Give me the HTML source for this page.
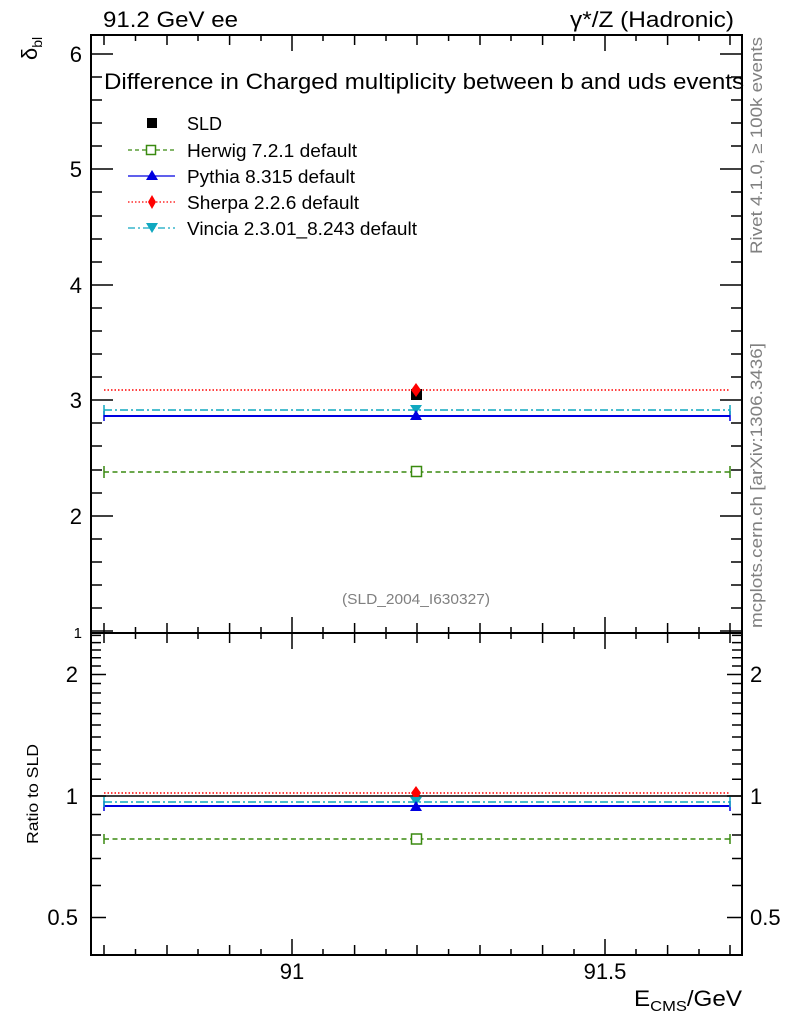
<!DOCTYPE html>
<html><head><meta charset="utf-8"><style>
html,body{margin:0;padding:0;background:#fff;}
svg{display:block;font-family:"Liberation Sans",sans-serif;}
</style></head><body>
<svg width="786" height="1024" viewBox="0 0 786 1024" xmlns="http://www.w3.org/2000/svg">
<rect width="786" height="1024" fill="#fff"/>
<rect x="91" y="35" width="651" height="598" fill="none" stroke="#000" stroke-width="2"/>
<rect x="91" y="633" width="651" height="322" fill="none" stroke="#000" stroke-width="2"/>

<g stroke="#000" stroke-width="1.5">
<path d="M91 631h22M91 516h22M91 400h22M91 285h22M91 169h22M91 54h22M742 631h-22M742 516h-22M742 400h-22M742 285h-22M742 169h-22M742 54h-22"/>
<path d="M91 608h11M91 585h11M91 562h11M91 539h11M91 493h11M91 470h11M91 446h11M91 423h11M91 377h11M91 354h11M91 331h11M91 308h11M91 262h11M91 239h11M91 216h11M91 192h11M91 146h11M91 123h11M91 100h11M91 77h11
M742 608h-11M742 585h-11M742 562h-11M742 539h-11M742 493h-11M742 470h-11M742 446h-11M742 423h-11M742 377h-11M742 354h-11M742 331h-11M742 308h-11M742 262h-11M742 239h-11M742 216h-11M742 192h-11M742 146h-11M742 123h-11M742 100h-11M742 77h-11"/>
<path d="M292 35v16M605 35v16M292 633v-16M605 633v-16M292 633v16M605 633v16M292 955v-16M605 955v-16"/>
<path d="M104 35v10M167 35v10M229.6 35v10M354.6 35v10M417 35v10M480 35v10M542.6 35v10M667.6 35v10M730 35v10
M104 633v-10M167 633v-10M229.6 633v-10M354.6 633v-10M417 633v-10M480 633v-10M542.6 633v-10M667.6 633v-10M730 633v-10
M104 633v10M167 633v10M229.6 633v10M354.6 633v10M417 633v10M480 633v10M542.6 633v10M667.6 633v10M730 633v10
M104 955v-10M167 955v-10M229.6 955v-10M354.6 955v-10M417 955v-10M480 955v-10M542.6 955v-10M667.6 955v-10M730 955v-10"/>
<path d="M135.5 35v6M198 35v6M261 35v6M323 35v6M386 35v6M448.6 35v6M511 35v6M574 35v6M636 35v6M699 35v6
M135.5 633v-6M198 633v-6M261 633v-6M323 633v-6M386 633v-6M448.6 633v-6M511 633v-6M574 633v-6M636 633v-6M699 633v-6
M135.5 633v6M198 633v6M261 633v6M323 633v6M386 633v6M448.6 633v6M511 633v6M574 633v6M636 633v6M699 633v6
M135.5 955v-6M198 955v-6M261 955v-6M323 955v-6M386 955v-6M448.6 955v-6M511 955v-6M574 955v-6M636 955v-6M699 955v-6"/>
<path d="M91 917.5h15M91 796h15M91 674.5h15M742 917.5h-15M742 796h-15M742 674.5h-15"/>
<path d="M91 885.5h10M91 858.5h10M91 835h10M91 814.5h10M91 779.3h10M91 764h10M91 750h10M91 737h10M91 725h10M91 713.6h10M91 703h10M91 693h10M91 683.5h10M91 666h10M91 657.8h10M91 650h10M91 642.6h10M91 635.4h10
M742 885.5h-10M742 858.5h-10M742 835h-10M742 814.5h-10M742 779.3h-10M742 764h-10M742 750h-10M742 737h-10M742 725h-10M742 713.6h-10M742 703h-10M742 693h-10M742 683.5h-10M742 666h-10M742 657.8h-10M742 650h-10M742 642.6h-10M742 635.4h-10"/>
</g>

<g font-size="22" fill="#000">
<text x="103" y="27" textLength="135" lengthAdjust="spacingAndGlyphs">91.2 GeV ee</text>
<text x="570" y="27" textLength="164" lengthAdjust="spacingAndGlyphs">γ*/Z (Hadronic)</text>
<text x="82" y="62" text-anchor="end">6</text>
<text x="82" y="177" text-anchor="end">5</text>
<text x="82" y="293" text-anchor="end">4</text>
<text x="82" y="408" text-anchor="end">3</text>
<text x="82" y="524" text-anchor="end">2</text>
<text x="82" y="638" text-anchor="end" font-size="15">1</text>
<text x="78" y="682" text-anchor="end">2</text>
<text x="78" y="804" text-anchor="end">1</text>
<text x="78" y="925" text-anchor="end">0.5</text>
<text x="750" y="682">2</text>
<text x="750" y="804">1</text>
<text x="750" y="925">0.5</text>
<text x="292" y="979" text-anchor="middle">91</text>
<text x="605" y="979" text-anchor="middle">91.5</text>
<text x="634" y="1006" textLength="108" lengthAdjust="spacingAndGlyphs">E<tspan font-size="15" dy="5">CMS</tspan><tspan dy="-5">/GeV</tspan></text>
<text x="104" y="89" textLength="640" lengthAdjust="spacingAndGlyphs">Difference in Charged multiplicity between b and uds events</text>
<text transform="translate(37,60) rotate(-90)" font-size="22">δ<tspan font-size="14" dy="5">bl</tspan></text>
</g>
<text transform="translate(38,844) rotate(-90)" font-size="16" textLength="100" lengthAdjust="spacingAndGlyphs">Ratio to SLD</text>
<g fill="#808080" font-size="17">
<text transform="translate(762,254) rotate(-90)" textLength="217" lengthAdjust="spacingAndGlyphs">Rivet 4.1.0, ≥ 100k events</text>
<text transform="translate(762,628) rotate(-90)" textLength="285" lengthAdjust="spacingAndGlyphs">mcplots.cern.ch [arXiv:1306.3436]</text>
<text x="342" y="604" font-size="15" textLength="148" lengthAdjust="spacingAndGlyphs">(SLD_2004_I630327)</text>
</g>

<g font-size="18" fill="#000">
<rect x="147" y="118" width="10" height="10"/>
<text x="187" y="130">SLD</text>
<line x1="128" y1="150" x2="175" y2="150" stroke="#3a8a10" stroke-width="1.3" stroke-dasharray="4,3"/>
<rect x="146.5" y="145.5" width="9" height="9" fill="#fff" stroke="#3a8a10" stroke-width="1.5"/>
<text x="187" y="157" textLength="170" lengthAdjust="spacingAndGlyphs">Herwig 7.2.1 default</text>
<line x1="128" y1="176" x2="175" y2="176" stroke="#0000e0" stroke-width="1.3"/>
<polygon points="152,170 158,180 146,180" fill="#0000e0"/>
<text x="187" y="183" textLength="168" lengthAdjust="spacingAndGlyphs">Pythia 8.315 default</text>
<line x1="128" y1="202" x2="175" y2="202" stroke="#f00" stroke-width="1.3" stroke-dasharray="1.5,2"/>
<polygon points="152,195 156,202 152,209 148,202" fill="#f00"/>
<text x="187" y="209" textLength="172" lengthAdjust="spacingAndGlyphs">Sherpa 2.2.6 default</text>
<line x1="128" y1="228" x2="175" y2="228" stroke="#10a8c0" stroke-width="1.3" stroke-dasharray="7,3,2,3"/>
<polygon points="146,223 158,223 152,233" fill="#10a8c0"/>
<text x="187" y="235" textLength="230" lengthAdjust="spacingAndGlyphs">Vincia 2.3.01_8.243 default</text>
</g>

<g stroke-width="1.5" fill="none">
<line x1="104" y1="472" x2="730" y2="472" stroke="#3a8a10" stroke-dasharray="5,3.5"/>
<line x1="104" y1="416" x2="730" y2="416" stroke="#0000e0" stroke-width="2"/>
<line x1="104" y1="390" x2="730" y2="390" stroke="#f00" stroke-dasharray="1.5,2"/>
<line x1="104" y1="410" x2="730" y2="410" stroke="#10a8c0" stroke-dasharray="8,3,2,3"/>
<path d="M104 466v12M730 466v12" stroke="#3a8a10"/>
<path d="M104 411v10M730 411v10" stroke="#0000e0"/>
<path d="M104 405v10M730 405v10" stroke="#10a8c0"/>
</g>
<rect x="411" y="389" width="11" height="11" fill="#000"/>
<polygon points="416,383 421,390 416,397 411,390" fill="#f00"/>
<polygon points="410,405 422,405 416,414" fill="#10a8c0"/>
<polygon points="416,410 422,420 410,420" fill="#0000e0"/>
<rect x="411.5" y="466.5" width="10" height="10" fill="#fff" stroke="#3a8a10" stroke-width="1.5"/>

<line x1="91" y1="796" x2="742" y2="796" stroke="#000" stroke-width="1.5"/>
<g stroke-width="1.5" fill="none">
<line x1="104" y1="839" x2="730" y2="839" stroke="#3a8a10" stroke-dasharray="5,3.5"/>
<line x1="104" y1="806" x2="730" y2="806" stroke="#0000e0" stroke-width="2"/>
<line x1="104" y1="793" x2="730" y2="793" stroke="#f00" stroke-dasharray="1.5,2"/>
<line x1="104" y1="802" x2="730" y2="802" stroke="#10a8c0" stroke-dasharray="8,3,2,3"/>
<path d="M104 834v10M730 834v10" stroke="#3a8a10"/>
<path d="M104 801v10M730 801v10" stroke="#0000e0"/>
<path d="M104 797v10M730 797v10" stroke="#10a8c0"/>
</g>
<polygon points="416,786 421,793 416,800 411,793" fill="#f00"/>
<polygon points="410,797 422,797 416,806" fill="#10a8c0"/>
<polygon points="416,801 422,811 410,811" fill="#0000e0"/>
<rect x="411.5" y="834" width="10" height="10" fill="#fff" stroke="#3a8a10" stroke-width="1.5"/>
</svg>
</body></html>
